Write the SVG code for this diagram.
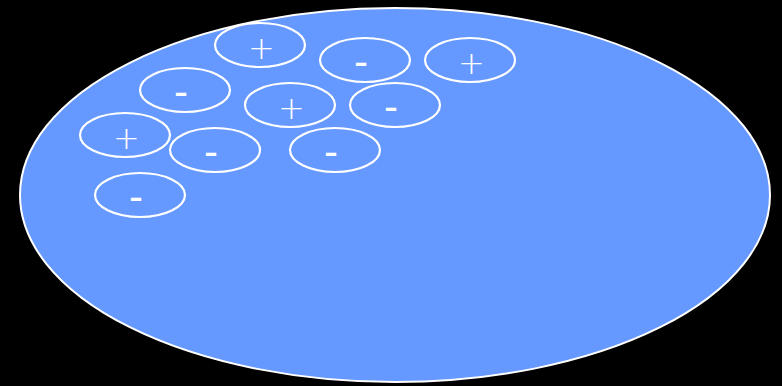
<svg xmlns="http://www.w3.org/2000/svg" width="782" height="386" viewBox="0 0 782 386">
<style>
.bg{fill:#000000}
.cell{fill:#6699FF;stroke:#FFFFFF;stroke-width:2}
.ion{fill:none;stroke:#FFFFFF;stroke-width:2.2}
.plus{fill:#FFFFFF;font-family:"DejaVu Sans",sans-serif;font-weight:200;font-size:32px;text-anchor:middle}
.minus{fill:#FFFFFF;font-family:"Liberation Sans",Arial,sans-serif;font-size:42px;text-anchor:middle}
</style>
<rect class="bg" x="0" y="0" width="782" height="386"/>
<g id="cell"><ellipse class="cell" cx="395" cy="195" rx="375" ry="187"/></g>
<g id="ion1"><ellipse class="ion" cx="260" cy="45" rx="45" ry="22"/><text class="plus" x="261.5" y="59">+</text></g>
<g id="ion2"><ellipse class="ion" cx="365" cy="60" rx="45" ry="22"/><text class="minus" x="361" y="76">-</text></g>
<g id="ion3"><ellipse class="ion" cx="470" cy="60" rx="45" ry="22"/><text class="plus" x="471.5" y="74">+</text></g>
<g id="ion4"><ellipse class="ion" cx="185" cy="90" rx="45" ry="22"/><text class="minus" x="181" y="106">-</text></g>
<g id="ion5"><ellipse class="ion" cx="290" cy="105" rx="45" ry="22"/><text class="plus" x="291.5" y="119">+</text></g>
<g id="ion6"><ellipse class="ion" cx="395" cy="105" rx="45" ry="22"/><text class="minus" x="391" y="121">-</text></g>
<g id="ion7"><ellipse class="ion" cx="125" cy="135" rx="45" ry="22"/><text class="plus" x="126.5" y="149">+</text></g>
<g id="ion8"><ellipse class="ion" cx="215" cy="150" rx="45" ry="22"/><text class="minus" x="211" y="166">-</text></g>
<g id="ion9"><ellipse class="ion" cx="335" cy="150" rx="45" ry="22"/><text class="minus" x="331" y="166">-</text></g>
<g id="ion10"><ellipse class="ion" cx="140" cy="195" rx="45" ry="22"/><text class="minus" x="136" y="211">-</text></g>
<g id="connectors"></g>
</svg>
